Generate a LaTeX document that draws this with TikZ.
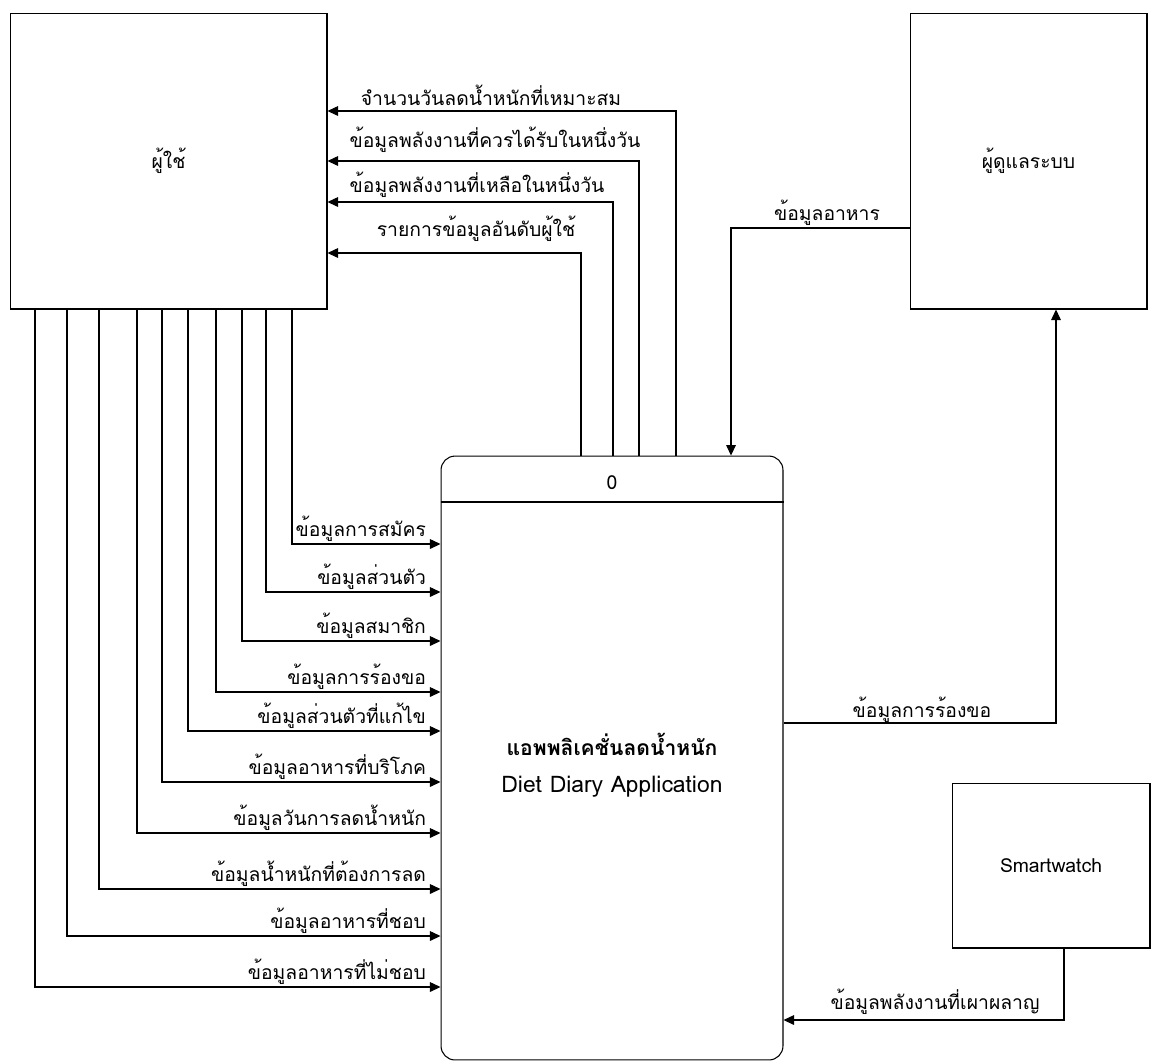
\documentclass[tikz,border=0pt]{standalone}
\usepackage{fontspec}
\setmainfont{Loma}
\usetikzlibrary{arrows.meta}

\begin{document}
\begin{tikzpicture}[x=0.02cm, y=-0.02cm, line width=0.6pt,
	flow/.style={-{Triangle[length=6pt,width=5.5pt]}},
	lab/.style={font=\fontsize{11}{13}\selectfont, inner sep=1pt},
	entity/.style={draw, font=\fontsize{11}{13}\selectfont}]
	\useasboundingbox (0,0) rectangle (1152,1063);

	\node[entity, minimum width=6.34cm, minimum height=5.92cm] (user) at (168.5,161) {ผู้ใช้};
	\node[entity, minimum width=4.74cm, minimum height=5.92cm] (admin) at (1028.5,161) {ผู้ดูแลระบบ};
	\node[entity, minimum width=3.96cm, minimum height=3.3cm] (watch) at (1051,865.5) {Smartwatch};
	\node[draw, rounded corners=0.28cm, minimum width=6.84cm, minimum height=12.08cm] (proc) at (612,758) {};
	\draw (proc.west |- 0,502) -- (proc.east |- 0,502);
	\node[lab] (pid) at (612,483) {0};
	\node[lab, align=center, font=\fontsize{12}{14}\selectfont] (pname) at (612,765) {\textbf{แอพพลิเคชั่นลดน้ำหนัก}\\[7pt]{\fontsize{13}{15}\selectfont Diet Diary Application}};

	% user -> process
	\draw[flow] (user.south -| 292,0) |- node[lab, pos=1, anchor=south east, xshift=-7pt] (in1) {ข้อมูลการสมัคร} (proc.west |- 0,544);
	\draw[flow] (user.south -| 266,0) |- node[lab, pos=1, anchor=south east, xshift=-7pt] (in2) {ข้อมูลส่วนตัว} (proc.west |- 0,592);
	\draw[flow] (user.south -| 242,0) |- node[lab, pos=1, anchor=south east, xshift=-7pt] (in3) {ข้อมูลสมาชิก} (proc.west |- 0,641);
	\draw[flow] (user.south -| 216,0) |- node[lab, pos=1, anchor=south east, xshift=-7pt] (in4) {ข้อมูลการร้องขอ} (proc.west |- 0,692);
	\draw[flow] (user.south -| 188,0) |- node[lab, pos=1, anchor=south east, xshift=-7pt] (in5) {ข้อมูลส่วนตัวที่แก้ไข} (proc.west |- 0,731);
	\draw[flow] (user.south -| 162,0) |- node[lab, pos=1, anchor=south east, xshift=-7pt] (in6) {ข้อมูลอาหารที่บริโภค} (proc.west |- 0,782);
	\draw[flow] (user.south -| 137,0) |- node[lab, pos=1, anchor=south east, xshift=-7pt] (in7) {ข้อมูลวันการลดน้ำหนัก} (proc.west |- 0,833);
	\draw[flow] (user.south -| 99,0) |- node[lab, pos=1, anchor=south east, xshift=-7pt] (in8) {ข้อมูลน้ำหนักที่ต้องการลด} (proc.west |- 0,889);
	\draw[flow] (user.south -| 67,0) |- node[lab, pos=1, anchor=south east, xshift=-7pt] (in9) {ข้อมูลอาหารที่ชอบ} (proc.west |- 0,936);
	\draw[flow] (user.south -| 35,0) |- node[lab, pos=1, anchor=south east, xshift=-7pt] (in10) {ข้อมูลอาหารที่ไม่ชอบ} (proc.west |- 0,987);

	% process -> user
	\draw[flow] (proc.north -| 676,0) |- (user.east |- 0,111);
	\draw[flow] (proc.north -| 639,0) |- (user.east |- 0,161);
	\draw[flow] (proc.north -| 613,0) |- (user.east |- 0,202);
	\draw[flow] (proc.north -| 581,0) |- (user.east |- 0,253);
	\node[lab] (out1) at (491,95) {จำนวนวันลดน้ำหนักที่เหมาะสม};
	\node[lab] (out2) at (495,140) {ข้อมูลพลังงานที่ควรได้รับในหนึ่งวัน};
	\node[lab] (out3) at (477,185) {ข้อมูลพลังงานที่เหลือในหนึ่งวัน};
	\node[lab] (out4) at (476,229) {รายการข้อมูลอันดับผู้ใช้};

	% admin, smartwatch
	\draw[flow] (admin.west |- 0,228) -| (proc.north -| 731,0);
	\node[lab] (food) at (827,213) {ข้อมูลอาหาร};
	\draw[flow] (proc.east |- 0,723) -| (admin.south -| 1056,0);
	\node[lab] (req) at (922,710) {ข้อมูลการร้องขอ};
	\draw[flow] (watch.south -| 1064,0) |- (proc.east |- 0,1020);
	\node[lab] (burn) at (935,1002) {ข้อมูลพลังงานที่เผาผลาญ};
\end{tikzpicture}
\end{document}
